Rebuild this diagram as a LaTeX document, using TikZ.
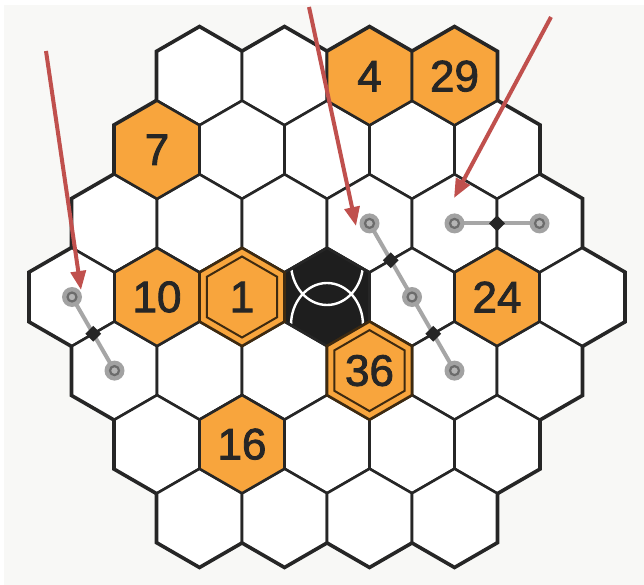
\documentclass[tikz,border=0pt]{standalone}
\usepackage{fontspec}
\setmainfont{Liberation Sans}
\newfontfamily\cellfont{Liberation Sans}[FakeBold=2]
\usetikzlibrary{shapes.geometric, arrows.meta, calc}

\definecolor{paper}{HTML}{F8F8F6}
\definecolor{ink}{HTML}{262626}
\definecolor{amber}{HTML}{F8A53D}
\definecolor{umber}{HTML}{3E2A10}
\definecolor{coal}{HTML}{1E1E1E}
\definecolor{arrowred}{HTML}{C0504D}
\definecolor{bondgray}{HTML}{A6A6A6}
\definecolor{halo}{HTML}{A2A2A2}
\definecolor{ringgray}{HTML}{6C6C6C}
\definecolor{atomcore}{HTML}{B4B4B4}

\begin{document}
\begin{tikzpicture}[x=1pt, y=-1pt,
    rim/.style={regular polygon, regular polygon sides=6, shape border rotate=30, minimum size=98.2pt, inner sep=0pt, draw=ink, line width=4.6pt},
    cell/.style={regular polygon, regular polygon sides=6, shape border rotate=30, minimum size=98.2pt, inner sep=0pt, draw=ink, fill=white, line width=2.6pt},
    numbered/.style={cell, fill=amber, text=ink, font=\cellfont\fontsize{44}{44}\selectfont},
    ringed/.style={numbered, draw=umber},
    innerring/.style={regular polygon, regular polygon sides=6, shape border rotate=30, minimum size=81pt, inner sep=0pt, draw=umber, line width=2pt},
    hubcell/.style={cell, fill=coal, draw=ink},
    bond/.style={draw=bondgray, line width=4pt},
    junction/.style={diamond, fill=ink, minimum width=16pt, minimum height=16pt, inner sep=0pt, draw=none},
    atom/.style={circle, minimum size=20pt, inner sep=0pt, fill=halo, path picture={\draw[ringgray, line width=2.2pt, fill=atomcore] (path picture bounding box.center) circle[radius=4.5pt];}},
    pointer/.style={arrowred, line width=4pt, -{Triangle[length=19pt, width=15pt]}}
]

    % Page
    \useasboundingbox (0,0) rectangle (644,585);
    \fill[white] (0,0) rectangle (644,585);
    \fill[paper] (4,5) rectangle (644,585);

    % Board: thick outline first, then the cells
    \foreach \r/\n in {0/4, 1/5, 2/6, 3/7, 4/6, 5/5, 6/4}
        \foreach \c in {1,...,\n}
            \node[rim] (rim-\r-\c) at ({327+85*(\c-(\n+1)/2)}, {297+73.6*(\r-3)}) {};
    \foreach \r/\n in {0/4, 1/5, 2/6, 3/7, 4/6, 5/5, 6/4}
        \foreach \c in {1,...,\n}
            \node[cell] (hex-\r-\c) at ({327+85*(\c-(\n+1)/2)}, {297+73.6*(\r-3)}) {};

    % Numbered cells
    \node[numbered] (four) at (hex-0-3.center) {4};
    \node[numbered] (twentynine) at (hex-0-4.center) {29};
    \node[numbered] (seven) at (hex-1-1.center) {7};
    \node[numbered] (ten) at (hex-3-2.center) {10};
    \node[numbered] (twentyfour) at (hex-3-6.center) {24};
    \node[numbered] (sixteen) at (hex-5-2.center) {16};

    % Centre cell
    \node[hubcell] (hub) at (hex-3-4.center) {};
    \begin{scope}
        \clip (hub.center) +(30:47) -- +(90:47) -- +(150:47) -- +(210:47) -- +(270:47) -- +(330:47) -- cycle;
        \draw[white, line width=2.4pt] (hub.center) ++(0,-34) ellipse[x radius=36, y radius=42];
        \draw[white, line width=2.4pt] (hub.center) ++(0,28) ellipse[x radius=36, y radius=42];
    \end{scope}

    % Ringed cells
    \node[ringed] (one) at (hex-3-3.center) {1};
    \node[innerring] (one-ring) at (one.center) {};
    \node[ringed] (thirtysix) at (hex-4-4.center) {36};
    \node[innerring] (thirtysix-ring) at (thirtysix.center) {};

    % Dumbbells
    \draw[bond] (hex-3-1.center) -- (hex-4-1.center);
    \node[junction] (jL) at ($(hex-3-1.center)!0.5!(hex-4-1.center)$) {};
    \node[atom] (atomL1) at (hex-3-1.center) {};
    \node[atom] (atomL2) at (hex-4-1.center) {};

    \draw[bond] (hex-2-4.center) -- (hex-3-5.center) -- (hex-4-5.center);
    \node[junction] (jM1) at ($(hex-2-4.center)!0.5!(hex-3-5.center)$) {};
    \node[junction] (jM2) at ($(hex-3-5.center)!0.5!(hex-4-5.center)$) {};
    \node[atom] (atomM1) at (hex-2-4.center) {};
    \node[atom] (atomM2) at (hex-3-5.center) {};
    \node[atom] (atomM3) at (hex-4-5.center) {};

    \draw[bond] (hex-2-5.center) -- (hex-2-6.center);
    \node[junction] (jR) at ($(hex-2-5.center)!0.5!(hex-2-6.center)$) {};
    \node[atom] (atomR1) at (hex-2-5.center) {};
    \node[atom] (atomR2) at (hex-2-6.center) {};

    % Arrows
    \coordinate (tailL) at (46,51);
    \coordinate (tipL) at (81,290);
    \coordinate (tailM) at (309,7);
    \coordinate (tipM) at (356,226);
    \coordinate (tailR) at (551,17);
    \coordinate (tipR) at (454,198);
    \draw[pointer] (tailL) -- (tipL);
    \draw[pointer] (tailM) -- (tipM);
    \draw[pointer] (tailR) -- (tipR);

\end{tikzpicture}
\end{document}
